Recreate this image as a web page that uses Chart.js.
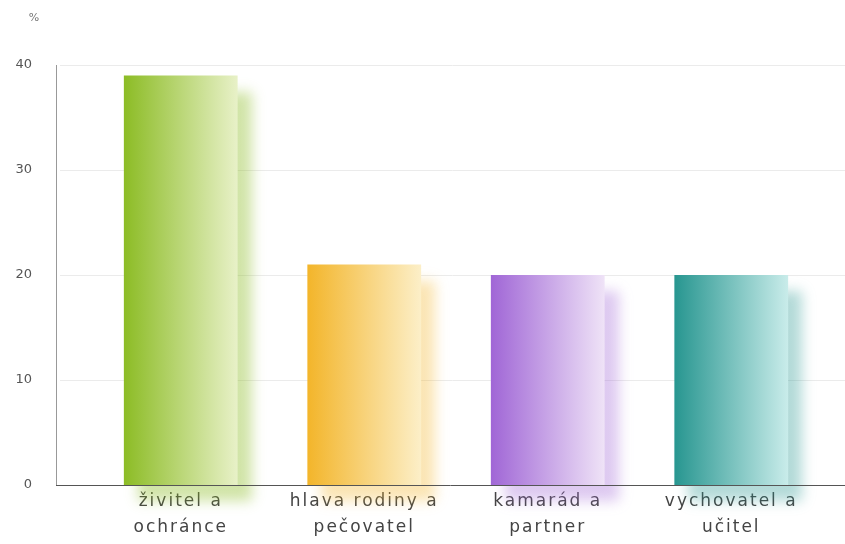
<!DOCTYPE html>
<html>
<head>
<meta charset="utf-8">
<script src="https://cdn.jsdelivr.net/npm/chart.js@4"></script>
<style>
  html, body { margin: 0; padding: 0; background: #fff; }
  #wrap { width: 845px; height: 544px; position: relative; }
</style>
</head>
<body>
<div id="wrap"><canvas id="chart"></canvas></div>
<script>
// data
const categories = [
  ["živitel a", "ochránce"],
  ["hlava rodiny a", "pečovatel"],
  ["kamarád a", "partner"],
  ["vychovatel a", "učitel"],
];
const values = [39, 21, 20, 20];
const yTicks = [0, 10, 20, 30, 40];
const unitLabel = "%";

// bar colours: dark left edge -> pale right edge
const leftColors = ["#8cbc25", "#f3b52a", "#a066d6", "#279690"];
const rightColors = ["#e8f1c8", "#fcefc8", "#efe3f7", "#c9ecea"];
const shadowColors = [
  "rgba(140,188,37,0.40)",
  "rgba(243,181,42,0.35)",
  "rgba(160,102,214,0.35)",
  "rgba(39,150,144,0.35)",
];

const BAR_RATIO = 0.62;
const AXIS_X = 56; // where the y axis line sits

function barGradient(context) {
  const chart = context.chart;
  const x = chart.scales.x;
  if (!x || !chart.chartArea) return leftColors[context.dataIndex];
  const i = context.dataIndex;
  const center = x.getPixelForValue(i);
  const w = (x.width / categories.length) * BAR_RATIO;
  const g = chart.ctx.createLinearGradient(center - w / 2, 0, center + w / 2, 0);
  g.addColorStop(0, leftColors[i]);
  g.addColorStop(1, rightColors[i]);
  return g;
}

// grid + axis lines span wider than the bar area
const axisLines = {
  id: "axisLines",
  afterLayout(chart) {
    // wide letter spacing only for the category labels
    const xs = chart.scales.x;
    if (xs && !xs._spaced) {
      const orig = xs.drawLabels.bind(xs);
      xs.drawLabels = function (area) {
        chart.ctx.save();
        chart.ctx.letterSpacing = "2px";
        orig(area);
        chart.ctx.restore();
      };
      xs._spaced = true;
    }
  },
  beforeDatasetsDraw(chart) {
    const ctx = chart.ctx;
    const y = chart.scales.y;
    const right = chart.width;
    ctx.save();
    ctx.lineWidth = 1;
    ctx.strokeStyle = "#ebebeb";
    yTicks.forEach((t) => {
      if (t === 0) return;
      const py = Math.round(y.getPixelForValue(t)) + 0.5;
      ctx.beginPath();
      ctx.moveTo(AXIS_X + 4, py);
      ctx.lineTo(right, py);
      ctx.stroke();
    });
    ctx.strokeStyle = "#999";
    ctx.beginPath();
    ctx.moveTo(AXIS_X + 0.5, y.getPixelForValue(40));
    ctx.lineTo(AXIS_X + 0.5, y.getPixelForValue(0));
    ctx.stroke();
    ctx.restore();
  },
  afterDatasetsDraw(chart) {
    const ctx = chart.ctx;
    const y = chart.scales.y;
    const py = Math.round(y.getPixelForValue(0)) + 0.5;
    ctx.save();
    ctx.strokeStyle = "#555";
    ctx.lineWidth = 1;
    ctx.beginPath();
    ctx.moveTo(AXIS_X, py);
    ctx.lineTo(chart.width, py);
    ctx.stroke();
    ctx.restore();
  },
};

// draws each bar with its own soft coloured shadow
const shadowBars = {
  id: "shadowBars",
  beforeDatasetDraw(chart, args) {
    const ctx = chart.ctx;
    const area = chart.chartArea;
    args.meta.data.forEach((el, i) => {
      ctx.save();
      ctx.shadowColor = shadowColors[i];
      ctx.shadowBlur = 12;
      ctx.shadowOffsetX = 14;
      ctx.shadowOffsetY = 16;
      el.draw(ctx, area);
      ctx.restore();
    });
    return false;
  },
};

// the "%" unit above the y ticks
const unitText = {
  id: "unitText",
  afterDraw(chart) {
    const ctx = chart.ctx;
    ctx.save();
    ctx.font = "11px 'DejaVu Sans'";
    ctx.fillStyle = "#777";
    ctx.textAlign = "center";
    ctx.textBaseline = "middle";
    ctx.fillText(unitLabel, 34, 18);
    ctx.restore();
  },
};

new Chart(document.getElementById("chart"), {
  type: "bar",
  data: {
    labels: categories,
    datasets: [
      {
        data: values,
        backgroundColor: barGradient,
        borderWidth: 0,
        barPercentage: BAR_RATIO,
        categoryPercentage: 1,
      },
    ],
  },
  options: {
    responsive: true,
    maintainAspectRatio: false,
    animation: false,
    layout: { padding: { top: 65, right: 22, left: 0, bottom: 0 } },
    plugins: {
      legend: { display: false },
      tooltip: { enabled: false },
    },
    scales: {
      x: {
        grid: { display: false, drawTicks: false },
        border: { display: false },
        ticks: {
          color: "#444",
          font: { family: "DejaVu Sans", size: 17, lineHeight: 1.55 },
          padding: 3,
          maxRotation: 0,
        },
        afterFit(s) {
          s.height = 59;
          s.paddingLeft = 0;
          s.paddingRight = 0;
        },
      },
      y: {
        min: 0,
        max: 40,
        afterBuildTicks(s) { s.ticks = yTicks.map((v) => ({ value: v })); },
        ticks: {
          color: "#555",
          font: { family: "DejaVu Sans", size: 13 },
          padding: 57,
        },
        grid: { display: false, drawTicks: false },
        border: { display: false },
        afterFit(s) {
          s.width = 89;
          s.paddingTop = 0;
          s.paddingBottom = 0;
        },
      },
    },
  },
  plugins: [axisLines, shadowBars, unitText],
});
</script>
</body>
</html>
